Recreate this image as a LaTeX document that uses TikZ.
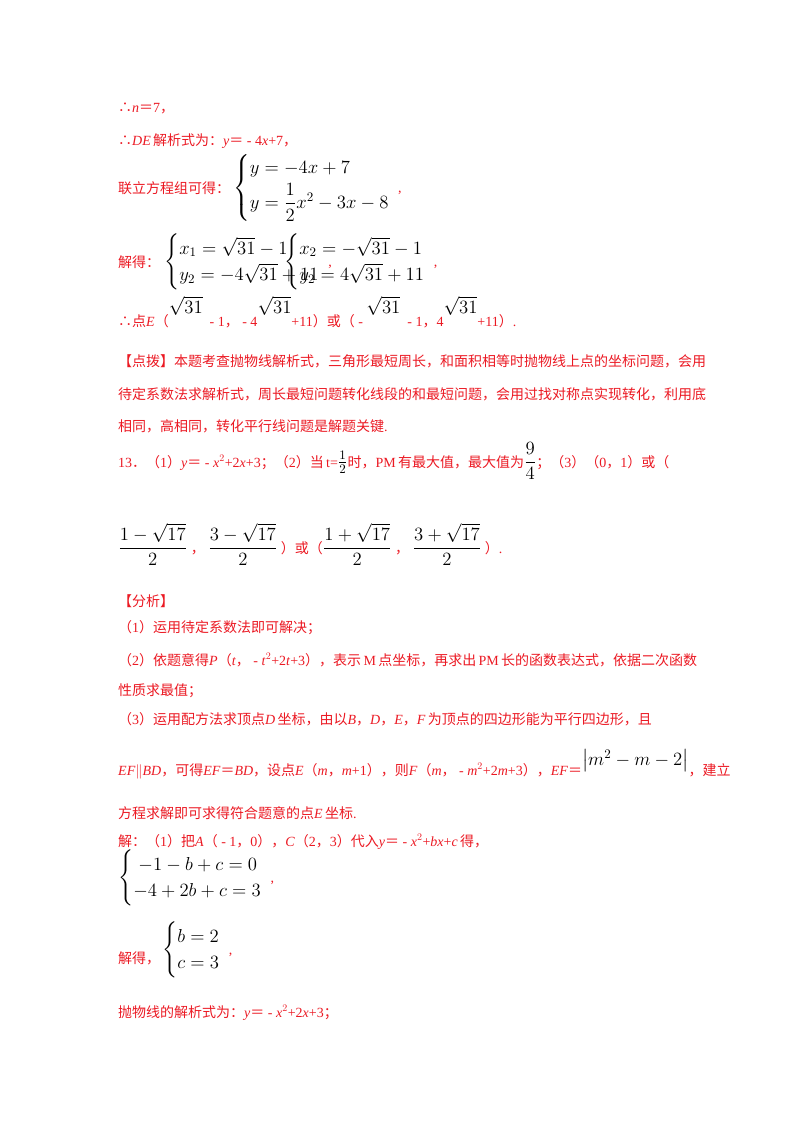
\documentclass[tikz,border=0pt]{standalone}
\usepackage{amsmath}
\usepackage{graphicx}
\usepackage{fontspec}
\setmainfont{Liberation Serif}
\newfontfamily\cjk{Noto Sans CJK SC}
\definecolor{ans}{RGB}{235,25,35}
\newcommand{\zh}[1]{{\cjk #1}}
\newcommand{\mb}[1]{\textcolor{black}{\scalebox{1.3}{$#1$}}}
\tikzset{txt/.style={anchor=base west,inner sep=0pt,text=ans,font=\fontsize{14}{17}\selectfont},
 mth/.style={anchor=west,inner sep=0pt,text=black,font=\fontsize{14}{17}\selectfont}}
\begin{document}
\begin{tikzpicture}[x=1pt,y=-1pt]
\useasboundingbox (0,0) rectangle (800,1132);
\node[txt] (l1) at (118,112) {\zh{∴}\textit{n}\zh{＝}7\zh{，}};
\node[txt] (l2) at (118,145) {\zh{∴}\textit{DE}\,\zh{解析式为：}\textit{y}\zh{＝} - 4\textit{x}+7\zh{，}};
\node[txt] (l3) at (118,193) {\zh{联立方程组可得：}};
\node[mth] (s1) at (233,188) {\mb{\begin{cases} y=-4x+7\\[2pt] y=\dfrac12x^2-3x-8\end{cases}}\hspace{-10pt}\textcolor{ans}{,}};
\node[txt] (l4) at (118,267) {\zh{解得：}};
\node[mth] (s2) at (164,262) {\mb{\begin{cases} x_1=\sqrt{31}-1\\ y_2=-4\sqrt{31}+11\end{cases}}\hspace{-10pt}\textcolor{ans}{,}};
\node[mth] (s3) at (284,262) {\mb{\begin{cases} x_2=-\sqrt{31}-1\\ y_2=4\sqrt{31}+11\end{cases}}\hspace{-10pt}\textcolor{ans}{,}};
\node[txt] (l5) at (118,326) {\zh{∴点}\textit{E}\zh{（}\raisebox{2.0ex}{\mb{\sqrt{31}}}\ \ - 1\zh{，} - 4\raisebox{2.0ex}{\mb{\sqrt{31}}}+11\zh{）或（} -\ \raisebox{2.0ex}{\mb{\sqrt{31}}}\ \ - 1\zh{，}4\raisebox{2.0ex}{\mb{\sqrt{31}}}+11\zh{）}.};
\node[txt] (p1) at (118,366) {\zh{【点拨】本题考查抛物线解析式，三角形最短周长，和面积相等时抛物线上点的坐标问题，会用}};
\node[txt] (p2) at (118,399) {\zh{待定系数法求解析式，周长最短问题转化线段的和最短问题，会用过找对称点实现转化，利用底}};
\node[txt] (p3) at (118,431) {\zh{相同，高相同，转化平行线问题是解题关键}.};
\node[txt] (q1) at (118,467) {13\zh{．（}1\zh{）}\textit{y}\zh{＝} - \textit{x}$^2$+2\textit{x}+3\zh{；（}2\zh{）当}\,t=\mb{\frac12}\zh{时，}PM\,\zh{有最大值，最大值为}\mb{\dfrac94}\zh{；（}3\zh{）（}0\zh{，}1\zh{）或（}};
\node[txt] (q2) at (118,553) {\mb{\dfrac{1-\sqrt{17}}{2}}\ \zh{，}\ \mb{\dfrac{3-\sqrt{17}}{2}}\ \zh{）或（}\mb{\dfrac{1+\sqrt{17}}{2}}\ \zh{，}\ \mb{\dfrac{3+\sqrt{17}}{2}}\ \zh{）}.};
\node[txt] (a0) at (118,606) {\zh{【分析】}};
\node[txt] (a1) at (118,632) {\zh{（}1\zh{）运用待定系数法即可解决；}};
\node[txt] (a2) at (118,665) {\zh{（}2\zh{）依题意得}\textit{P}\zh{（}\textit{t}\zh{，} - \textit{t}$^2$+2\textit{t}+3\zh{），表示}\,M\,\zh{点坐标，再求出}\,PM\,\zh{长的函数表达式，依据二次函数}};
\node[txt] (a3) at (118,695) {\zh{性质求最值；}};
\node[txt] (a4) at (118,724) {\zh{（}3\zh{）运用配方法求顶点}\textit{D}\,\zh{坐标，由以}\textit{B}\zh{，}\textit{D}\zh{，}\textit{E}\zh{，}\textit{F}\,\zh{为顶点的四边形能为平行四边形，且}};
\node[txt] (a5) at (118,775) {\textit{EF}$\|$\textit{BD}\zh{，可得}\textit{EF}\zh{＝}\textit{BD}\zh{，设点}\textit{E}\zh{（}\textit{m}\zh{，}\textit{m}+1\zh{），则}\textit{F}\zh{（}\textit{m}\zh{，} - \textit{m}$^2$+2\textit{m}+3\zh{），}\textit{EF}\zh{＝}\raisebox{1.5ex}{\mb{\left|m^2-m-2\right|}}\zh{，建立}};
\node[txt] (a6) at (118,818) {\zh{方程求解即可求得符合题意的点}\textit{E}\,\zh{坐标}.};
\node[txt] (b1) at (118,846) {\zh{解：（}1\zh{）把}\textit{A}\zh{（} - 1\zh{，}0\zh{），}\textit{C}\zh{（}2\zh{，}3\zh{）代入}\textit{y}\zh{＝} - \textit{x}$^2$+\textit{bx}+\textit{c}\,\zh{得，}};
\node[mth] (s4) at (118,878) {\mb{\begin{cases} \;-1-b+c=0\\ -4+2b+c=3\end{cases}}\hspace{-10pt}\textcolor{ans}{,}};
\node[txt] (b2) at (118,963) {\zh{解得，}};
\node[mth] (s5) at (162,950) {\mb{\begin{cases} b=2\\ c=3\end{cases}}\hspace{-10pt}\textcolor{ans}{,}};
\node[txt] (b3) at (118,1017) {\zh{抛物线的解析式为：}\textit{y}\zh{＝} - \textit{x}$^2$+2\textit{x}+3\zh{；}};
\end{tikzpicture}
\end{document}
